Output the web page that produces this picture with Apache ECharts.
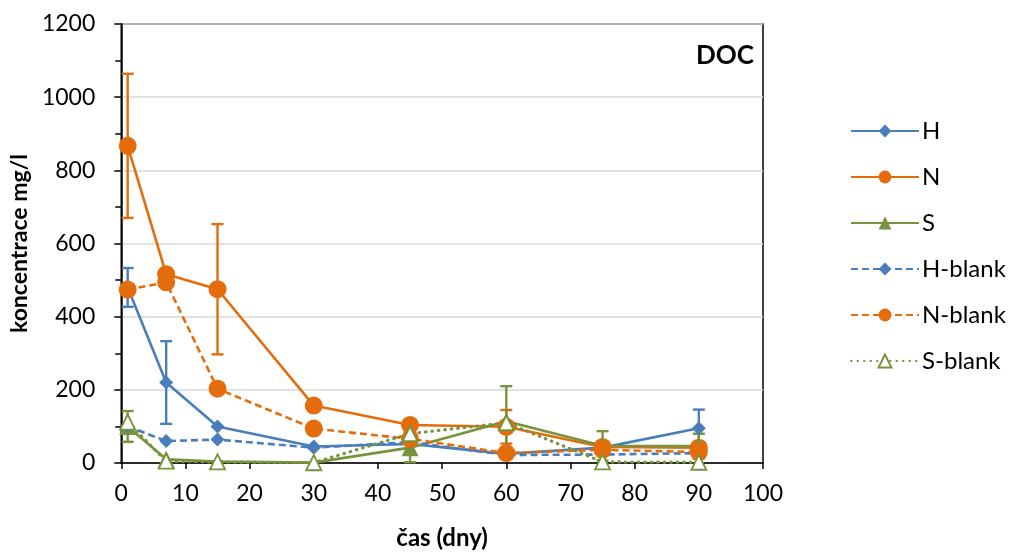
<!DOCTYPE html>
<html>
<head>
<meta charset="utf-8">
<script src="https://cdn.jsdelivr.net/npm/echarts@6/dist/echarts.min.js"></script>
<style>
  html, body { margin: 0; padding: 0; background: #fff; }
  #chart { width: 1010px; height: 555px; }
</style>
</head>
<body>
<div id="chart"></div>
<script>
// Sampling days
const days = [1, 7, 15, 30, 45, 60, 75, 90];

// DOC concentration (mg/l) per treatment, with standard deviations
const H       = [480, 220, 100, 45, 52, 25, 42, 95];
const H_err   = [53, 113, 0, 0, 0, 0, 0, 51];
const N       = [867, 516, 475, 157, 104, 99, 44, 42];
const N_err   = [197, 0, 178, 0, 0, 46, 12, 0];
const S       = [100, 10, 4, 1, 42, 114, 47, 46];
const S_err   = [42, 0, 0, 0, 40, 96, 40, 34];
const H_blank = [100, 60, 64, 42, 57, 22, 23, 27];
const N_blank = [474, 494, 203, 94, 66, 27, 36, 30];
const S_blank = [112, 5, 3, 1, 80, 110, 3, 2];

const yTicks = [0, 200, 400, 600, 800, 1000, 1200];

const BLUE = '#4a7ebb';
const ORANGE = '#e46c0a';
const GREEN = '#77933c';
const FONT = 'Lato, "Open Sans", sans-serif';

function pairs(vals) {
  return days.map((d, i) => [d, vals[i]]);
}

function errData(vals, errs) {
  const out = [];
  days.forEach((d, i) => {
    if (errs[i] > 0) out.push([d, vals[i] - errs[i], vals[i] + errs[i]]);
  });
  return out;
}

function errSeries(vals, errs, color) {
  return {
    type: 'custom',
    silent: true,
    z: 1,
    data: errData(vals, errs),
    encode: { x: 0, y: [1, 2] },
    renderItem: function (params, api) {
      const x = api.value(0);
      const lo = api.coord([x, api.value(1)]);
      const hi = api.coord([x, api.value(2)]);
      const w = 6;
      const style = { stroke: color, lineWidth: 2.4 };
      return {
        type: 'group',
        children: [
          { type: 'line', shape: { x1: lo[0], y1: lo[1], x2: hi[0], y2: hi[1] }, style },
          { type: 'line', shape: { x1: hi[0] - w, y1: hi[1], x2: hi[0] + w, y2: hi[1] }, style },
          { type: 'line', shape: { x1: lo[0] - w, y1: lo[1], x2: lo[0] + w, y2: lo[1] }, style }
        ]
      };
    }
  };
}

function lineSeries(name, vals, color, symbol, size, lineType, open) {
  return {
    name: name,
    type: 'line',
    data: pairs(vals),
    symbol: symbol,
    symbolSize: size,
    z: 3,
    lineStyle: {
      color: color,
      width: lineType === 'dotted' ? 3.2 : 2.6,
      type: lineType === 'dashed' ? [7, 4] : (lineType === 'dotted' ? [0.5, 6] : 'solid'),
      cap: lineType === 'dotted' ? 'round' : 'butt'
    },
    itemStyle: open
      ? { color: '#ffffff', borderColor: color, borderWidth: 1.8 }
      : { color: color, borderWidth: 0 },
    emphasis: { disabled: true }
  };
}

const chart = echarts.init(document.getElementById('chart'));
chart.setOption({
  animation: false,
  backgroundColor: '#ffffff',
  grid: {
    left: 115, right: 247, top: 24, bottom: 89,
    show: true, borderColor: '#000', borderWidth: 1.5, backgroundColor: 'transparent'
  },
  title: {
    text: 'DOC',
    left: 691,
    top: 38,
    textStyle: { fontFamily: FONT, fontWeight: 'bold', fontSize: 26, color: '#000' }
  },
  legend: {
    orient: 'vertical',
    left: 845,
    top: 114,
    itemWidth: 68,
    itemHeight: 16,
    itemGap: 22,
    textStyle: { fontFamily: FONT, fontSize: 24, color: '#000', padding: [0, 0, 0, -2] },
    data: ['H', 'N', 'S', 'H-blank', 'N-blank', 'S-blank']
  },
  xAxis: {
    type: 'value',
    min: 0,
    max: 100,
    interval: 10,
    name: 'čas (dny)',
    nameLocation: 'middle',
    nameGap: 63,
    nameTextStyle: { fontFamily: FONT, fontWeight: 'bold', fontSize: 24, color: '#000' },
    axisLine: { onZero: false, lineStyle: { color: '#000', width: 1.5 } },
    axisTick: { show: true, length: 6, lineStyle: { color: '#000', width: 1.5 } },
    axisLabel: { fontFamily: FONT, fontSize: 23, color: '#000', margin: 19 },
    splitLine: { show: false }
  },
  yAxis: {
    type: 'value',
    min: 0,
    max: 1200,
    interval: 200,
    name: 'koncentrace mg/l',
    nameLocation: 'middle',
    nameGap: 86,
    nameTextStyle: { fontFamily: FONT, fontWeight: 'bold', fontSize: 23, color: '#000' },
    axisLine: { show: true, lineStyle: { color: '#000', width: 1.5 } },
    axisTick: { show: true, length: 7, lineStyle: { color: '#000', width: 1.5 } },
    minorTick: { show: true, splitNumber: 2, length: 6, lineStyle: { color: '#000', width: 1.5 } },
    axisLabel: {
      fontFamily: FONT, fontSize: 23, color: '#000', margin: 26,
      formatter: v => (yTicks.indexOf(v) >= 0 ? String(v) : '')
    },
    splitLine: { show: true, lineStyle: { color: '#d9d9d9', width: 1.5 } }
  },
  series: [
    errSeries(H, H_err, BLUE),
    errSeries(N, N_err, ORANGE),
    errSeries(S, S_err, GREEN),
    lineSeries('H', H, BLUE, 'diamond', 14, 'solid', false),
    lineSeries('N', N, ORANGE, 'circle', 18, 'solid', false),
    lineSeries('S', S, GREEN, 'triangle', 17, 'solid', false),
    lineSeries('H-blank', H_blank, BLUE, 'diamond', 14, 'dashed', false),
    lineSeries('N-blank', N_blank, ORANGE, 'circle', 18, 'dashed', false),
    lineSeries('S-blank', S_blank, GREEN, 'triangle', 15, 'dotted', true)
  ]
});
</script>
</body>
</html>
